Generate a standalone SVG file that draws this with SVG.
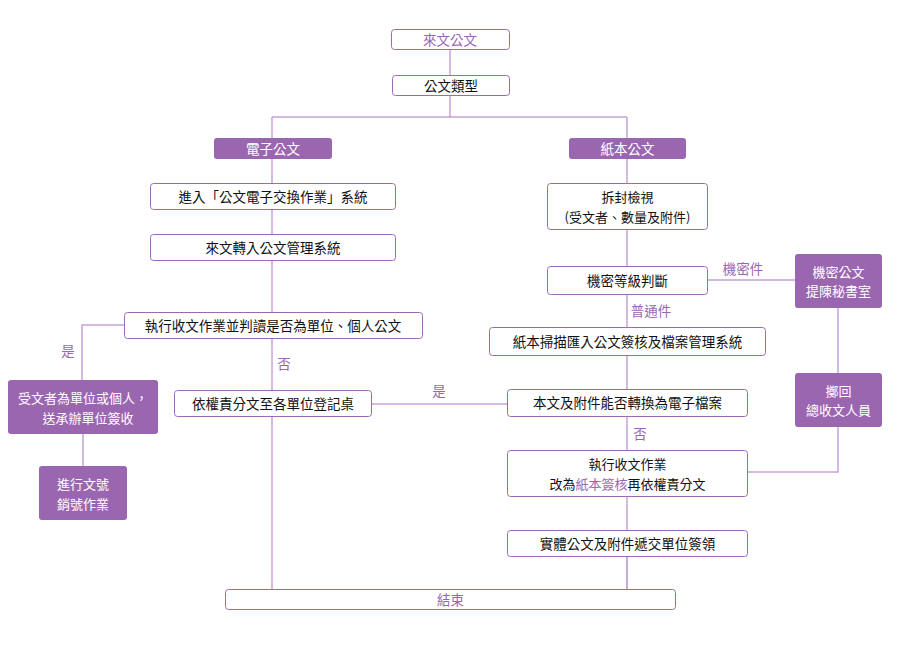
<svg xmlns="http://www.w3.org/2000/svg" width="900" height="647" viewBox="0 0 900 647">
<style>
.box{fill:#fff;stroke:#9d69b4;stroke-width:1}
.fbox{fill:#9b66b0;stroke:none}
.t{font-family:"Noto Sans CJK TC","Noto Sans CJK SC",sans-serif;font-size:13.5px;fill:#111;text-anchor:middle;dominant-baseline:central}
.m{font-size:13px}
.tw{fill:#fff}
.tp{fill:#9b66b0}
.lbl{font-family:"Noto Sans CJK TC","Noto Sans CJK SC",sans-serif;font-size:13.5px;fill:#9b66b0;text-anchor:middle;dominant-baseline:central}
.ln{fill:none;stroke:#c9a3d9;stroke-width:1.5}
.ld{fill:none;stroke:#a575bb;stroke-width:1.2}
</style>
<rect width="900" height="647" fill="#fff"/>
<g id="connectors">
<path class="ln" d="M450 49V75"/>
<path class="ln" d="M450 95V117"/>
<path class="ld" d="M272 117H627"/>
<path class="ln" d="M272 117V138M627 117V138"/>
<path class="ln" d="M272 158V183M272 209V234M272 260V312M272 338V390M272 416V589"/>
<path class="ln" d="M124 325H82V380M83 433V466"/>
<path class="ln" d="M371 404H507"/>
<path class="ln" d="M627 158V183M627 229V266M627 294V327M627 355V389M627 416V450M627 496V530"/>
<path class="ld" d="M627 556V589"/>
<path class="ld" d="M707 280H795"/>
<path class="ln" d="M838 307V373M838 426V472H747"/>
</g>
<g id="n-laiwen"><rect class="box" x="391.5" y="29.5" width="118" height="20" rx="3"/><text class="t tp" x="450" y="38.5">來文公文</text></g>
<g id="n-leixing"><rect class="box" x="392.5" y="75.5" width="117" height="20" rx="3"/><text class="t" x="451" y="84.5">公文類型</text></g>
<g id="n-dianzi"><rect class="fbox" x="214" y="138" width="118" height="21" rx="3"/><text class="t tw" x="273" y="147.5">電子公文</text></g>
<g id="n-zhiben"><rect class="fbox" x="569" y="138" width="117" height="21" rx="3"/><text class="t tw" x="627.5" y="147.5">紙本公文</text></g>
<g id="n-jinru"><rect class="box" x="150.5" y="183.5" width="245" height="26" rx="3"/><text class="t" x="273" y="195.5">進入「公文電子交換作業」系統</text></g>
<g id="n-zhuanru"><rect class="box" x="150.5" y="234.5" width="245" height="26" rx="3"/><text class="t" x="273" y="246.5">來文轉入公文管理系統</text></g>
<g id="n-zhixing"><rect class="box" x="124.5" y="312.5" width="298" height="26" rx="3"/><text class="t" x="273" y="324.5">執行收文作業並判讀是否為單位、個人公文</text></g>
<g id="n-shouwen"><rect class="fbox" x="8" y="380" width="150" height="54" rx="3"/><text class="t m tw" x="83" y="397.5">受文者為單位或個人，<tspan x="88" dy="19">送承辦單位簽收</tspan></text></g>
<g id="n-wenhao"><rect class="fbox" x="39" y="466" width="88" height="54" rx="3"/><text class="t m tw" x="83" y="483.5">進行文號<tspan x="83" dy="19">銷號作業</tspan></text></g>
<g id="n-yiquan"><rect class="box" x="174.5" y="390.5" width="197" height="26" rx="3"/><text class="t" x="273" y="402.5">依權責分文至各單位登記桌</text></g>
<g id="n-chaifeng"><rect class="box" x="547.5" y="183.5" width="160" height="46" rx="3"/><text class="t m" x="627.5" y="196.5">拆封檢視<tspan x="627.5" dy="19">(受文者、數量及附件)</tspan></text></g>
<g id="n-jimi"><rect class="box" x="547.5" y="266.5" width="160" height="28" rx="3"/><text class="t" x="627.5" y="279.5">機密等級判斷</text></g>
<g id="n-mishu"><rect class="fbox" x="795" y="254" width="87" height="54" rx="3"/><text class="t m tw" x="838.5" y="271">機密公文<tspan x="838.5" dy="19">提陳秘書室</tspan></text></g>
<g id="n-saomiao"><rect class="box" x="489.5" y="327.5" width="276" height="28" rx="3"/><text class="t" x="627.5" y="340.5">紙本掃描匯入公文簽核及檔案管理系統</text></g>
<g id="n-zhihui"><rect class="fbox" x="795" y="373" width="87" height="54" rx="3"/><text class="t m tw" x="838.5" y="390">擲回<tspan x="838.5" dy="19">總收文人員</tspan></text></g>
<g id="n-benwen"><rect class="box" x="507.5" y="389.5" width="240" height="27" rx="3"/><text class="t" x="627.5" y="402">本文及附件能否轉換為電子檔案</text></g>
<g id="n-gaiwei"><rect class="box" x="507.5" y="450.5" width="240" height="46" rx="3"/><text class="t m" x="627.5" y="463.5">執行收文作業<tspan x="627.5" dy="19">改為</tspan><tspan class="tp">紙本簽核</tspan><tspan>再依權責分文</tspan></text></g>
<g id="n-shiti"><rect class="box" x="507.5" y="530.5" width="240" height="26" rx="3"/><text class="t" x="627.5" y="542.5">實體公文及附件遞交單位簽領</text></g>
<g id="n-jieshu"><rect class="box" x="225.5" y="589.5" width="450" height="20" rx="3"/><text class="t tp" x="450.5" y="598.5">結束</text></g>
<g id="labels">
<text class="lbl" x="68" y="350">是</text>
<text class="lbl" x="284" y="363">否</text>
<text class="lbl" x="439" y="390">是</text>
<text class="lbl" x="743" y="268">機密件</text>
<text class="lbl" x="651" y="310">普通件</text>
<text class="lbl" x="640" y="433">否</text>
</g>
</svg>
